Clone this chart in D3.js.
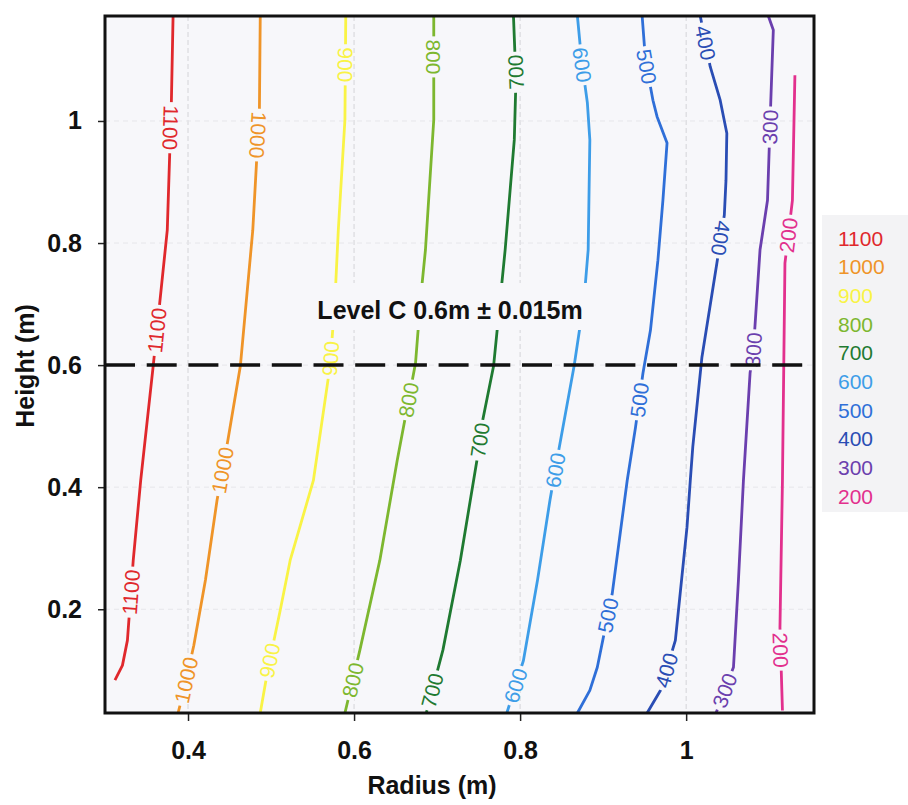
<!DOCTYPE html>
<html>
<head>
<meta charset="utf-8">
<script src="https://cdn.jsdelivr.net/npm/d3@7"></script>
<style>
  body { margin: 0; background: #fff; }
  svg { display: block; font-family: "Liberation Sans", Arial, sans-serif; }
</style>
</head>
<body>
<div id="chart"></div>
<script>
// contour levels and colours
var levels = [1100, 1000, 900, 800, 700, 600, 500, 400, 300, 200];
var colors = ["#e0282c", "#ef9428", "#f9f345", "#7db72f", "#1f7a31",
              "#3d9de8", "#2f6fd8", "#2a4db4", "#6b3fae", "#e2308d"];
var xTicks = [0.4, 0.6, 0.8, 1];
var yTicks = [0.2, 0.4, 0.6, 0.8, 1];

// contour lines, [radius, height], top to bottom
var c1100 = [[0.382,1.172],[0.380,1.034],[0.375,0.821],[0.358,0.598],[0.343,0.411],[0.334,0.280],[0.327,0.149],[0.321,0.108],[0.312,0.084]];
var c1000 = [[0.487,1.172],[0.486,1.018],[0.478,0.821],[0.463,0.598],[0.448,0.477],[0.435,0.379],[0.421,0.248],[0.407,0.141],[0.395,0.067],[0.388,0.03]];
var c900  = [[0.590,1.172],[0.589,1.002],[0.581,0.821],[0.577,0.707],[0.571,0.598],[0.551,0.411],[0.523,0.280],[0.511,0.198],[0.496,0.100],[0.487,0.03]];
var c800  = [[0.696,1.172],[0.696,1.002],[0.686,0.789],[0.680,0.707],[0.674,0.603],[0.652,0.444],[0.631,0.280],[0.607,0.133],[0.589,0.03]];
var c700  = [[0.792,1.172],[0.795,1.067],[0.793,0.969],[0.782,0.789],[0.776,0.707],[0.768,0.598],[0.755,0.510],[0.748,0.444],[0.728,0.280],[0.707,0.133],[0.687,0.03]];
var c600  = [[0.869,1.172],[0.874,1.100],[0.881,1.030],[0.884,0.969],[0.882,0.789],[0.877,0.707],[0.865,0.598],[0.845,0.449],[0.836,0.379],[0.821,0.248],[0.804,0.116],[0.784,0.03]];
var c500  = [[0.947,1.172],[0.951,1.100],[0.960,1.034],[0.965,1.007],[0.977,0.964],[0.972,0.870],[0.966,0.772],[0.957,0.657],[0.948,0.587],[0.939,0.498],[0.929,0.411],[0.911,0.226],[0.893,0.105],[0.884,0.067],[0.869,0.03]];
var c400  = [[1.017,1.172],[1.029,1.089],[1.041,1.034],[1.049,0.980],[1.048,0.903],[1.046,0.846],[1.037,0.767],[1.019,0.613],[1.008,0.466],[1.005,0.411],[1.001,0.334],[0.987,0.149],[0.969,0.067],[0.953,0.03]];
var c300  = [[1.099,1.172],[1.105,1.149],[1.102,1.034],[1.098,0.870],[1.089,0.789],[1.081,0.625],[1.077,0.587],[1.069,0.411],[1.063,0.248],[1.057,0.105],[1.036,0.03]];
var c200  = [[1.131,1.075],[1.128,0.870],[1.119,0.767],[1.116,0.411],[1.113,0.170],[1.116,0.034]];

// inline labels: [height, 1 = reads downward]
var l1100 = [[0.989,1],[0.657,0],[0.228,0]];
var l1000 = [[0.977,1],[0.428,0],[0.084,0]];
var l900  = [[1.092,1],[0.611,0],[0.116,0]];
var l800  = [[1.105,1],[0.543,0],[0.084,0]];
var l700  = [[1.080,0],[0.477,0],[0.067,0]];
var l600  = [[1.092,1],[0.428,0],[0.075,0]];
var l500  = [[1.089,1],[0.543,0],[0.190,0]];
var l400  = [[1.128,1],[0.808,1],[0.100,0]];
var l300  = [[0.990,0],[0.625,0],[0.067,0]];
var l200  = [[0.813,0],[0.133,1]];

var lines = [c1100, c1000, c900, c800, c700, c600, c500, c400, c300, c200];
var labels = [l1100, l1000, l900, l800, l700, l600, l500, l400, l300, l200];

var W = 908, H = 805;
var margin = {top: 16, right: 94, bottom: 92, left: 105};
var plotBg = "#f7f7fa";

var svg = d3.select("#chart").append("svg")
    .attr("width", W)
    .attr("height", H);

var x = d3.scaleLinear().domain([0.3, 1.154]).range([margin.left, W - margin.right]);
var y = d3.scaleLinear().domain([0.03, 1.172]).range([H - margin.bottom, margin.top]);

// legend panel background
svg.append("rect")
    .attr("x", 822).attr("y", 215)
    .attr("width", 86).attr("height", 297)
    .attr("fill", "#f3f3f5");

// plot background
svg.append("rect")
    .attr("x", x.range()[0]).attr("y", y.range()[1])
    .attr("width", x.range()[1] - x.range()[0])
    .attr("height", y.range()[0] - y.range()[1])
    .attr("fill", plotBg);

// faint grid
var grid = svg.append("g").attr("class", "grid");
grid.selectAll(".vx").data(xTicks).enter().append("line")
    .attr("x1", function(d) { return x(d); }).attr("x2", function(d) { return x(d); })
    .attr("y1", y.range()[1]).attr("y2", y.range()[0])
    .attr("stroke", "#d4d4d8").attr("stroke-width", 1)
    .attr("stroke-dasharray", "5,3");
grid.selectAll(".hy").data(yTicks).enter().append("line")
    .attr("y1", function(d) { return y(d); }).attr("y2", function(d) { return y(d); })
    .attr("x1", x.range()[0]).attr("x2", x.range()[1])
    .attr("stroke", "#e6e6ea").attr("stroke-width", 1)
    .attr("stroke-dasharray", "5,4");

// contour lines
var line = d3.line()
    .x(function(d) { return x(d[0]); })
    .y(function(d) { return y(d[1]); });

var contours = svg.append("g").attr("class", "contours");
contours.selectAll("path")
    .data(lines)
    .enter().append("path")
    .attr("d", line)
    .attr("fill", "none")
    .attr("stroke", function(d, i) { return colors[i]; })
    .attr("stroke-width", 2.8)
    .attr("stroke-linejoin", "round");

// position + angle on a line at a given height
function placeAt(pts, h) {
    for (var i = 0; i < pts.length - 1; i++) {
        var a = pts[i], b = pts[i + 1];
        if (h <= a[1] && h >= b[1]) {
            var t = (a[1] - h) / (a[1] - b[1]);
            var px = x(a[0]) + t * (x(b[0]) - x(a[0]));
            var py = y(a[1]) + t * (y(b[1]) - y(a[1]));
            var ang = Math.atan2(y(a[1]) - y(b[1]), x(a[0]) - x(b[0])) * 180 / Math.PI;
            return [px, py, ang];
        }
    }
    var last = pts[pts.length - 1];
    return [x(last[0]), y(last[1]), -90];
}

var labG = svg.append("g").attr("class", "clabels");
lines.forEach(function(pts, i) {
    labels[i].forEach(function(lb) {
        var p = placeAt(pts, lb[0]);
        var ang = p[2] + (lb[1] ? 180 : 0);
        var g = labG.append("g")
            .attr("transform", "translate(" + p[0] + "," + p[1] + ") rotate(" + ang + ")");
        var gap = g.append("rect").attr("fill", plotBg);
        var t = g.append("text")
            .attr("text-anchor", "middle")
            .attr("dy", "0.36em")
            .attr("font-size", 21)
            .attr("fill", colors[i])
            .text(levels[i]);
        var len = t.node().getComputedTextLength();
        gap.attr("x", -len / 2 - 3).attr("y", -6)
            .attr("width", len + 6).attr("height", 12);
    });
});

// level annotation
var title = svg.append("g");
var titleBg = title.append("rect").attr("fill", plotBg);
var titleText = title.append("text")
    .attr("x", 450).attr("y", 319)
    .attr("text-anchor", "middle")
    .attr("font-size", 25)
    .attr("font-weight", "bold")
    .attr("fill", "#111")
    .text("Level C 0.6m \u00b1 0.015m");
var bb = titleText.node().getBBox();
titleBg.attr("x", bb.x - 6).attr("y", 283)
    .attr("width", bb.width + 12).attr("height", 47);

// dashed level line
svg.append("line")
    .attr("x1", x.range()[0]).attr("x2", x.range()[1])
    .attr("y1", y(0.6)).attr("y2", y(0.6))
    .attr("stroke", "#111")
    .attr("stroke-width", 3.5)
    .attr("stroke-dasharray", "30,11.7");

// axes
var fmt = d3.format("~g");
var xAxis = svg.append("g")
    .attr("transform", "translate(0," + y.range()[0] + ")")
    .call(d3.axisBottom(x).tickValues(xTicks).tickFormat(fmt).tickSize(8).tickPadding(20));
var yAxis = svg.append("g")
    .attr("transform", "translate(" + x.range()[0] + ",0)")
    .call(d3.axisLeft(y).tickValues(yTicks).tickFormat(fmt).tickSize(7).tickPadding(16));

[xAxis, yAxis].forEach(function(ax) {
    ax.select(".domain").remove();
    ax.selectAll(".tick line").attr("stroke", "#222").attr("stroke-width", 1.5);
    ax.selectAll(".tick text")
        .attr("font-size", 25)
        .attr("font-weight", "bold")
        .attr("font-family", "Liberation Sans, Arial, sans-serif")
        .attr("fill", "#111");
});

// frame
svg.append("rect")
    .attr("x", x.range()[0]).attr("y", y.range()[1])
    .attr("width", x.range()[1] - x.range()[0])
    .attr("height", y.range()[0] - y.range()[1])
    .attr("fill", "none")
    .attr("stroke", "#111")
    .attr("stroke-width", 3);

// axis titles
svg.append("text")
    .attr("x", 432).attr("y", 794)
    .attr("text-anchor", "middle")
    .attr("font-size", 25).attr("font-weight", "bold")
    .attr("fill", "#111")
    .text("Radius (m)");

svg.append("text")
    .attr("transform", "translate(34,366) rotate(-90)")
    .attr("text-anchor", "middle")
    .attr("font-size", 25).attr("font-weight", "bold")
    .attr("fill", "#111")
    .text("Height (m)");

// legend
var legend = svg.append("g").attr("class", "legend");
legend.selectAll("text")
    .data(levels)
    .enter().append("text")
    .attr("x", 838)
    .attr("y", function(d, i) { return 238 + i * 28.7; })
    .attr("dy", "0.36em")
    .attr("font-size", 21)
    .attr("fill", function(d, i) { return colors[i]; })
    .text(function(d) { return d; });
</script>
</body>
</html>
